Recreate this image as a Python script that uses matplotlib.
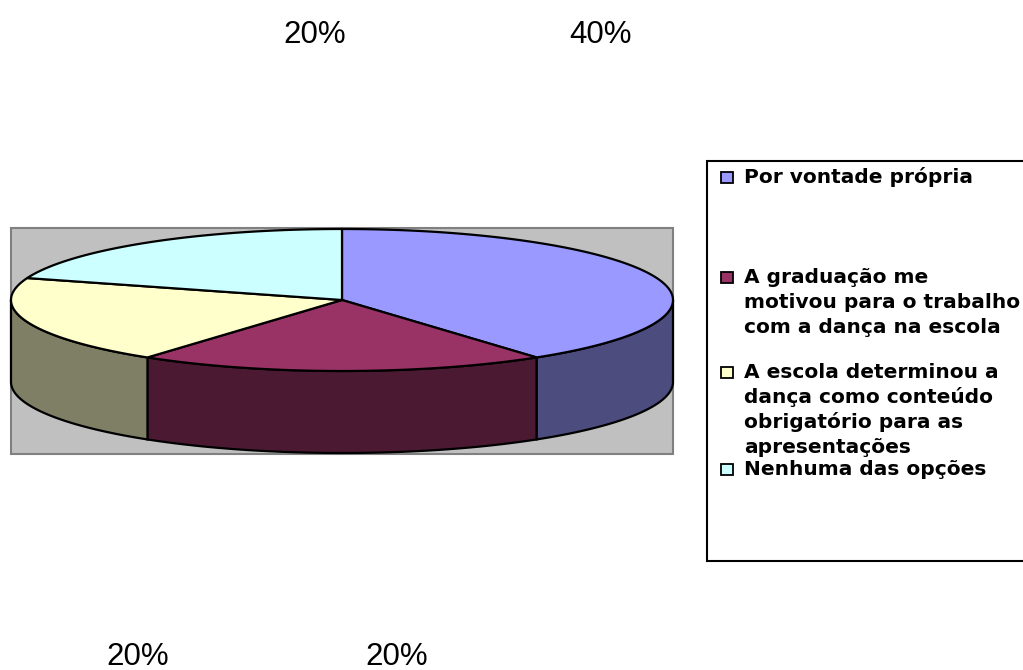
import numpy as np
import matplotlib.pyplot as plt
from matplotlib.patches import Polygon, Rectangle

# data
labels = ["Por vontade própria",
          "A graduação me\nmotivou para o trabalho\ncom a dança na escola",
          "A escola determinou a\ndança como conteúdo\nobrigatório para as\napresentações",
          "Nenhuma das opções"]
values = [40, 20, 20, 20]
pct_labels = ["40%", "20%", "20%", "20%"]
top_colors = ["#9999FF", "#993366", "#FFFFCC", "#CCFFFF"]
side_colors = ["#4C4C7F", "#4C1933", "#7F7F66", "#667F7F"]

fig = plt.figure(figsize=(10.23, 6.70), dpi=100)
ax = fig.add_axes([0, 0, 1, 1])
ax.set_xlim(0, 1023)
ax.set_ylim(670, 0)
ax.axis("off")

# plot area
ax.add_patch(Rectangle((11, 228), 662, 226, facecolor="#C0C0C0",
                       edgecolor="#808080", lw=1.5, zorder=0))

cx, cy, rx, ry, depth = 342, 300, 331, 71, 82

def pt(theta, dy=0):
    return cx + rx * np.cos(theta), cy - ry * np.sin(theta) + dy

# slices go clockwise from 12 o'clock
fracs = np.array(values) / sum(values)
starts = np.pi / 2 - 2 * np.pi * np.concatenate([[0], np.cumsum(fracs)[:-1]])
ends = starts - 2 * np.pi * fracs

# sides (front half only)
for a0, a1, col in zip(starts, ends, side_colors):
    lo, hi = a1 % (2 * np.pi), a0 % (2 * np.pi)
    if hi <= lo:
        hi += 2 * np.pi
    s, e = max(lo, np.pi), min(hi, 2 * np.pi)
    if e <= s:
        continue
    th = np.linspace(s, e, 80)
    top = np.array([pt(t) for t in th])
    bot = np.array([pt(t, depth) for t in th[::-1]])
    ax.add_patch(Polygon(np.vstack([top, bot]), closed=True, facecolor=col,
                         edgecolor="black", lw=1.6, zorder=2))

# tops
for a0, a1, col in zip(starts, ends, top_colors):
    th = np.linspace(a0, a1, 120)
    arc = np.array([pt(t) for t in th])
    poly = np.vstack([[cx, cy], arc])
    ax.add_patch(Polygon(poly, closed=True, facecolor=col,
                         edgecolor="black", lw=1.6, zorder=3))

# percentage labels
label_pos = [(601, 43), (397, 665), (138, 665), (315, 43)]
for (x, y), t in zip(label_pos, pct_labels):
    ax.text(x, y, t, ha="center", va="baseline", fontsize=22.5,
            family="Liberation Sans")

# legend
ax.add_patch(Rectangle((707, 161), 330, 400, facecolor="white",
                       edgecolor="black", lw=1.5, zorder=1))
leg_base = [[183], [283, 308, 333], [378, 403, 428, 453], [475]]
for ys, lab, col in zip(leg_base, labels, top_colors):
    ax.add_patch(Rectangle((721, ys[0] - 11.5), 12, 11, facecolor=col,
                           edgecolor="black", lw=1.3, zorder=4))
    for y, line in zip(ys, lab.split("\n")):
        ax.text(744, y, line, ha="left", va="baseline", fontsize=14.5,
                fontweight="bold", family="DejaVu Sans", zorder=4)

fig.savefig("out.png", dpi=100)
